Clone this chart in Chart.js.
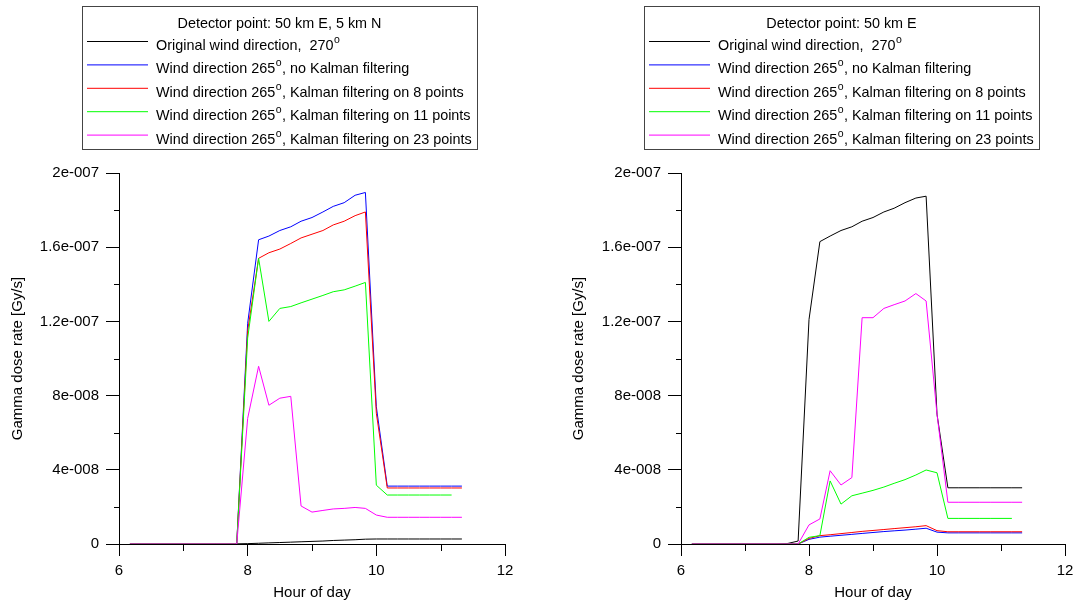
<!DOCTYPE html>
<html>
<head>
<meta charset="utf-8">
<script src="https://cdn.jsdelivr.net/npm/chart.js@4.4.1/dist/chart.umd.min.js"></script>
<style>
body { margin: 0; background: #fff; }
#wrap { position: relative; width: 1080px; height: 606px; }
canvas { position: absolute; top: 0; }
#esquerda { left: 0; }
#direita { left: 540px; }
</style>
</head>
<body>
<div id="wrap">
<canvas id="esquerda" width="540" height="606"></canvas>
<canvas id="direita" width="540" height="606"></canvas>
</div>
<script>
// horas do dia (passo de 10 min)
const horas = [6.17, 6.33, 6.5, 6.67, 6.83, 7, 7.17, 7.33, 7.5, 7.67, 7.83, 8, 8.17, 8.33, 8.5, 8.67,
  8.83, 9, 9.17, 9.33, 9.5, 9.67, 9.83, 10, 10.17, 10.33, 10.5, 10.67, 10.83, 11, 11.17, 11.33];

const rotulos = [
  'Original wind direction,  270°',
  'Wind direction 265°, no Kalman filtering',
  'Wind direction 265°, Kalman filtering on 8 points',
  'Wind direction 265°, Kalman filtering on 11 points',
  'Wind direction 265°, Kalman filtering on 23 points'
];
const cores = ['#000000', '#0000ff', '#ff0000', '#00ff00', '#ff00ff'];

const tituloEsquerda = 'Detector point: 50 km E, 5 km N';
const tituloDireita = 'Detector point: 50 km E';

const ticksX = [6, 8, 10, 12];
const menoresX = [7, 9, 11];
const menoresY = [2e-8, 6e-8, 1e-7, 1.4e-7, 1.8e-7];

// 50 km E, 5 km N
const esqOriginal = [0, 0, 0, 0, 0, 0, 0, 0, 0, 0, 0.01e-8, 0.02e-8, 0.04e-8, 0.06e-8, 0.08e-8, 0.1e-8,
  0.12e-8, 0.14e-8, 0.16e-8, 0.19e-8, 0.21e-8, 0.23e-8, 0.26e-8, 0.27e-8, 0.27e-8, 0.27e-8, 0.27e-8,
  0.27e-8, 0.27e-8, 0.27e-8, 0.27e-8, 0.27e-8];
const esqSemKalman = [0, 0, 0, 0, 0, 0, 0, 0, 0, 0, 0, 11.9e-8, 16.4e-8, 16.6e-8, 16.9e-8, 17.1e-8,
  17.4e-8, 17.6e-8, 17.9e-8, 18.2e-8, 18.4e-8, 18.8e-8, 18.95e-8, 7.4e-8, 3.12e-8, 3.12e-8, 3.12e-8,
  3.12e-8, 3.12e-8, 3.12e-8, 3.12e-8, 3.12e-8];
const esqKalman8 = [0, 0, 0, 0, 0, 0, 0, 0, 0, 0, 0, 11.5e-8, 15.4e-8, 15.7e-8, 15.9e-8, 16.2e-8,
  16.5e-8, 16.7e-8, 16.9e-8, 17.2e-8, 17.4e-8, 17.7e-8, 17.9e-8, 7.05e-8, 3.02e-8, 3.02e-8, 3.02e-8,
  3.02e-8, 3.02e-8, 3.02e-8, 3.02e-8, 3.02e-8];
const esqKalman11 = [0, 0, 0, 0, 0, 0, 0, 0, 0, 0, 0, 11.1e-8, 15.4e-8, 12.0e-8, 12.7e-8, 12.8e-8,
  13.0e-8, 13.2e-8, 13.4e-8, 13.6e-8, 13.7e-8, 13.9e-8, 14.1e-8, 3.17e-8, 2.64e-8, 2.64e-8, 2.64e-8,
  2.64e-8, 2.64e-8, 2.64e-8, 2.64e-8, null];
const esqKalman23 = [0, 0, 0, 0, 0, 0, 0, 0, 0, 0, 0, 6.77e-8, 9.58e-8, 7.48e-8, 7.86e-8, 7.96e-8,
  2.05e-8, 1.72e-8, 1.81e-8, 1.89e-8, 1.92e-8, 1.97e-8, 1.92e-8, 1.56e-8, 1.44e-8, 1.44e-8, 1.44e-8,
  1.44e-8, 1.44e-8, 1.44e-8, 1.44e-8, 1.44e-8];

// 50 km E
const dirOriginal = [0, 0, 0, 0, 0, 0, 0, 0, 0, 0.03e-8, 0.16e-8, 12.1e-8, 16.3e-8, 16.6e-8, 16.9e-8, 17.1e-8,
  17.4e-8, 17.6e-8, 17.9e-8, 18.1e-8, 18.4e-8, 18.65e-8, 18.75e-8, 7.0e-8, 3.03e-8, 3.03e-8, 3.03e-8,
  3.03e-8, 3.03e-8, 3.03e-8, 3.03e-8, 3.03e-8];
const dirSemKalman = [0, 0, 0, 0, 0, 0, 0, 0, 0, 0, 0, 0.25e-8, 0.37e-8, 0.42e-8, 0.47e-8, 0.52e-8,
  0.57e-8, 0.62e-8, 0.67e-8, 0.71e-8, 0.75e-8, 0.8e-8, 0.85e-8, 0.64e-8, 0.6e-8, 0.6e-8, 0.6e-8,
  0.6e-8, 0.6e-8, 0.6e-8, 0.6e-8, 0.6e-8];
const dirKalman8 = [0, 0, 0, 0, 0, 0, 0, 0, 0, 0, 0, 0.3e-8, 0.45e-8, 0.5e-8, 0.56e-8, 0.62e-8,
  0.68e-8, 0.73e-8, 0.78e-8, 0.83e-8, 0.88e-8, 0.93e-8, 0.99e-8, 0.72e-8, 0.66e-8, 0.66e-8, 0.66e-8,
  0.66e-8, 0.66e-8, 0.66e-8, 0.66e-8, 0.66e-8];
const dirKalman11 = [0, 0, 0, 0, 0, 0, 0, 0, 0, 0, 0, 0.36e-8, 0.45e-8, 3.4e-8, 2.15e-8, 2.6e-8,
  2.74e-8, 2.89e-8, 3.07e-8, 3.27e-8, 3.47e-8, 3.72e-8, 3.99e-8, 3.84e-8, 1.38e-8, 1.38e-8, 1.38e-8,
  1.38e-8, 1.38e-8, 1.38e-8, 1.38e-8, null];
const dirKalman23 = [0, 0, 0, 0, 0, 0, 0, 0, 0, 0, 0, 1.03e-8, 1.35e-8, 3.95e-8, 3.18e-8, 3.58e-8,
  12.2e-8, 12.2e-8, 12.7e-8, 12.9e-8, 13.1e-8, 13.5e-8, 13.1e-8, 7.0e-8, 2.25e-8, 2.25e-8, 2.25e-8,
  2.25e-8, 2.25e-8, 2.25e-8, 2.25e-8, 2.25e-8];

const FONTE = '"Liberation Sans", Arial, sans-serif';
Chart.defaults.font.family = FONTE;
Chart.defaults.color = '#000';

function formatarExp(v) {
  if (Math.abs(v) < 1e-20) return '0';
  const [m, e] = Number(v.toPrecision(3)).toExponential().split('e');
  const n = parseInt(e, 10);
  return m + 'e' + (n < 0 ? '-' : '+') + String(Math.abs(n)).padStart(3, '0');
}

const tracosMenores = {
  id: 'tracosMenores',
  afterDraw(chart) {
    const { ctx, chartArea, scales } = chart;
    ctx.save();
    ctx.strokeStyle = '#000';
    ctx.lineWidth = 1;
    ctx.beginPath();
    menoresX.forEach((v) => {
      const px = Math.round(scales.x.getPixelForValue(v)) + 0.5;
      ctx.moveTo(px, chartArea.bottom);
      ctx.lineTo(px, chartArea.bottom + 7);
    });
    menoresY.forEach((v) => {
      const py = Math.round(scales.y.getPixelForValue(v)) + 0.5;
      ctx.moveTo(chartArea.left, py);
      ctx.lineTo(chartArea.left - 5, py);
    });
    ctx.stroke();
    ctx.restore();
  }
};

const caixaLegenda = {
  id: 'caixaLegenda',
  afterDraw(chart, args, opts) {
    const { ctx, chartArea } = chart;
    const bx = chartArea.left - 37, by = 6, bw = 395, bh = 143;
    ctx.save();
    ctx.strokeStyle = '#444';
    ctx.lineWidth = 1;
    ctx.strokeRect(bx + 0.5, by + 0.5, bw, bh);
    ctx.fillStyle = '#000';
    ctx.font = '14.4px ' + FONTE;
    ctx.textAlign = 'center';
    ctx.textBaseline = 'alphabetic';
    ctx.fillText(opts.titulo, bx + bw / 2, 28);
    ctx.textAlign = 'left';
    chart.data.datasets.forEach((ds, i) => {
      const ly = 41.5 + i * 23.4;
      ctx.strokeStyle = ds.borderColor;
      ctx.beginPath();
      ctx.moveTo(bx + 5, ly);
      ctx.lineTo(bx + 66, ly);
      ctx.stroke();
      const partes = ds.label.split('°');
      const base = ly + 8.5;
      let tx = bx + 74;
      ctx.font = '14.4px ' + FONTE;
      ctx.fillText(partes[0], tx, base);
      tx += ctx.measureText(partes[0]).width;
      if (partes.length > 1) {
        ctx.font = '10.5px ' + FONTE;
        ctx.fillText('o', tx + 0.5, base - 7);
        tx += ctx.measureText('o').width + 1;
        ctx.font = '14.4px ' + FONTE;
        ctx.fillText(partes[1], tx, base);
      }
    });
    ctx.restore();
  }
};

function montarDatasets(series) {
  return series.map((valores, i) => ({
    label: rotulos[i],
    data: horas.map((h, j) => ({ x: h, y: valores[j] })),
    borderColor: cores[i],
    backgroundColor: cores[i],
    borderWidth: 1,
    pointRadius: 0,
    fill: false,
    tension: 0,
    order: 5 - i
  }));
}

function criarGrafico(id, titulo, series, padEsq, largY, padDir) {
  new Chart(document.getElementById(id).getContext('2d'), {
    type: 'line',
    data: { datasets: montarDatasets(series) },
    options: {
      responsive: false,
      animation: false,
      layout: { padding: { top: 173, left: padEsq, right: padDir, bottom: 0 } },
      plugins: {
        legend: { display: false },
        tooltip: { enabled: false },
        caixaLegenda: { titulo: titulo }
      },
      scales: {
        x: {
          type: 'linear',
          min: 6,
          max: 12,
          afterBuildTicks: (s) => { s.ticks = ticksX.map((v) => ({ value: v })); },
          ticks: { font: { size: 15 }, padding: 6, maxRotation: 0 },
          grid: { drawOnChartArea: false, tickLength: 12, color: '#000' },
          border: { color: '#000' },
          title: { display: true, text: 'Hour of day', font: { size: 15 }, padding: { top: 2, bottom: 4 } },
          afterFit: (s) => { s.height = 62; }
        },
        y: {
          min: 0,
          max: 2e-7,
          ticks: { stepSize: 4e-8, callback: formatarExp, font: { size: 15 }, padding: 7 },
          grid: { drawOnChartArea: false, tickLength: 13, color: '#000' },
          border: { color: '#000' },
          title: { display: true, text: 'Gamma dose rate [Gy/s]', font: { size: 15 }, padding: { top: 4, bottom: 4 } },
          afterFit: (s) => { s.width = largY; }
        }
      }
    },
    plugins: [tracosMenores, caixaLegenda]
  });
}

criarGrafico('esquerda', tituloEsquerda,
  [esqOriginal, esqSemKalman, esqKalman8, esqKalman11, esqKalman23], 5, 114, 35);
criarGrafico('direita', tituloDireita,
  [dirOriginal, dirSemKalman, dirKalman8, dirKalman11, dirKalman23], 26, 115, 15);
</script>
</body>
</html>
